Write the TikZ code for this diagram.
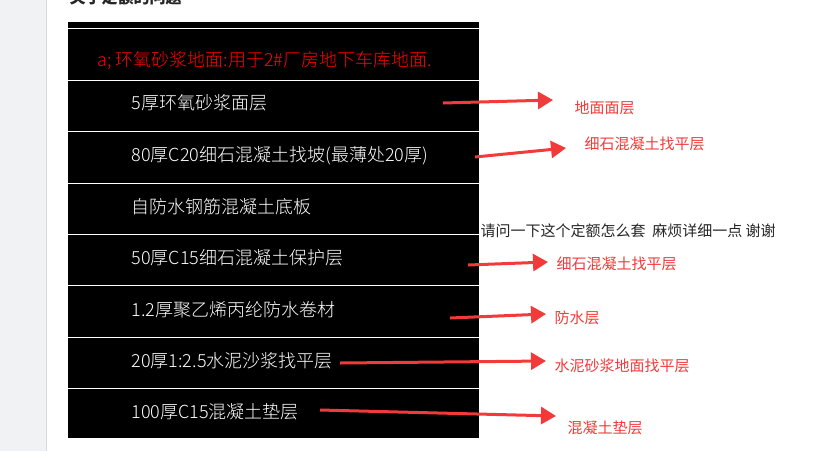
\documentclass[tikz,border=0pt]{standalone}
\usepackage{fontspec}
\setmainfont{Noto Sans CJK SC}
\newfontfamily\cadfont{Noto Sans CJK SC Light}
\usetikzlibrary{arrows.meta}
\definecolor{arr}{HTML}{F23A3A}
\definecolor{strip}{HTML}{F1F2F4}
\tikzset{
  row/.style={anchor=west,text=white,font=\cadfont\fontsize{18}{20}\selectfont},
  lab/.style={anchor=west,text=arr,font=\fontsize{15}{17}\selectfont},
  ar/.style={arr,line width=3pt,-{Triangle[length=15pt,width=17pt]}},
  sep/.style={white,line width=0.8pt}
}
\begin{document}
\begin{tikzpicture}[x=1pt,y=-1pt]
\useasboundingbox (0,0) rectangle (837,451);
\fill[white] (0,0) rectangle (837,451);
\fill[strip] (0,0) rectangle (46,451);
\draw[gray!30] (46.5,0) -- (46.5,451);
\node[anchor=west,font=\bfseries\fontsize{16}{18}\selectfont,text=black!85] (title) at (66,-3) {关于定额的问题};
\fill[black] (68,22) rectangle (479,438);
\foreach \y in {28.5,80,131.5,183,234.5,285.5,337,388.5} \draw[sep] (68,\y) -- (479,\y);
\node[anchor=west,text=red,font=\cadfont\fontsize{18}{20}\selectfont] (t0) at (94,61) {a;\ 环氧砂浆地面:用于2\#厂房地下车库地面.};
\node[row] (r1) at (128,103) {5厚环氧砂浆面层};
\node[row] (r2) at (128,156) {80厚C20细石混凝土找坡(最薄处20厚)};
\node[row] (r3) at (128,207) {自防水钢筋混凝土底板};
\node[row] (r4) at (128,258) {50厚C15细石混凝土保护层};
\node[row] (r5) at (128,310) {1.2厚聚乙烯丙纶防水卷材};
\node[row] (r6) at (128,361) {20厚1:2.5水泥沙浆找平层};
\node[row] (r7) at (128,412) {100厚C15混凝土垫层};
\node[anchor=west,font=\fontsize{15}{17}\selectfont,text=black!85] (q) at (477,231) {请问一下这个定额怎么套\ \ 麻烦详细一点 谢谢};
\node[lab] (l1) at (571,108) {地面面层};
\node[lab] (l2) at (581,144) {细石混凝土找平层};
\node[lab] (l3) at (553,264) {细石混凝土找平层};
\node[lab] (l4) at (551,318) {防水层};
\node[lab] (l5) at (551,366) {水泥砂浆地面找平层};
\node[lab] (l6) at (564,428) {混凝土垫层};
\coordinate (a1s) at (443,103); \coordinate (a1e) at (553,100);
\coordinate (a2s) at (475,157); \coordinate (a2e) at (566,148);
\coordinate (a3s) at (468,265); \coordinate (a3e) at (548,262);
\coordinate (a4s) at (450,318); \coordinate (a4e) at (546,314);
\coordinate (a5s) at (340,363); \coordinate (a5e) at (546,361);
\coordinate (a6s) at (320,410); \coordinate (a6e) at (556,416);
\foreach \i in {1,...,6} \draw[ar] (a\i s) -- (a\i e);
\end{tikzpicture}
\end{document}
